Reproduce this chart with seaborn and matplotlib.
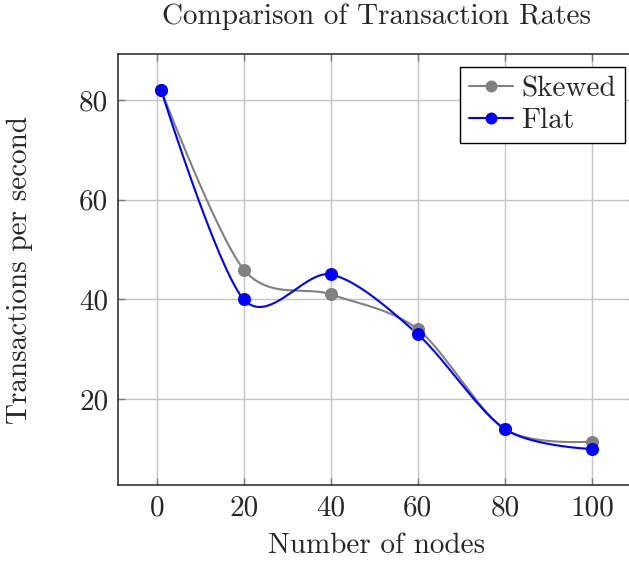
import numpy as np
import pandas as pd
import matplotlib
matplotlib.use("Agg")
import matplotlib.pyplot as plt
from matplotlib.lines import Line2D
import seaborn as sns

# Measured transaction rates
nodes = [1, 20, 40, 60, 80, 100]
skewed = [82, 46, 41, 34, 14, 11.5]
flat = [82, 40, 45, 33, 14, 10]

x_ticks = [0, 20, 40, 60, 80, 100]
y_ticks = [20, 40, 60, 80]

sns.set_theme(style="white")
plt.rcParams["font.family"] = ["cmr10", "DejaVu Serif"]
plt.rcParams["axes.formatter.use_mathtext"] = True
plt.rcParams["mathtext.fontset"] = "cm"

FS = 21


def smooth_path(xs, ys, tension=0.15, n=40):
    """Cubic Bezier path through the points, in the style of a TikZ 'smooth' plot."""
    p = np.column_stack([xs, ys]).astype(float)
    k = len(p)
    out = []
    for i in range(k - 1):
        a, b = p[i], p[i + 1]
        c1 = a if i == 0 else a + tension * (p[i + 1] - p[i - 1])
        c2 = b if i == k - 2 else b - tension * (p[i + 2] - p[i])
        t = np.linspace(0, 1, n, endpoint=(i == k - 2))[:, None]
        seg = ((1 - t) ** 3) * a + 3 * ((1 - t) ** 2) * t * c1 + 3 * (1 - t) * t ** 2 * c2 + t ** 3 * b
        out.append(seg)
    out = np.vstack(out)
    return out[:, 0], out[:, 1]


W, H = 629, 561
AX_L, AX_R, AX_T, AX_B = 118, 635, 54, 485
fig = plt.figure(figsize=(W / 100, H / 100), dpi=100)
ax = fig.add_axes([AX_L / W, (H - AX_B) / H, (AX_R - AX_L) / W, (AX_B - AX_T) / H])

series = [("Skewed", skewed, "#808080"), ("Flat", flat, "#0000ff")]
for name, vals, col in series:
    sx, sy = smooth_path(nodes, vals)
    curve = pd.DataFrame({"x": sx, "y": sy})
    sns.lineplot(data=curve, x="x", y="y", sort=False, color=col, linewidth=1.5,
                 ax=ax, zorder=3, legend=False)
    pts = pd.DataFrame({"x": nodes, "y": vals})
    sns.scatterplot(data=pts, x="x", y="y", color=col, s=88, edgecolor=col,
                    linewidth=0, ax=ax, zorder=4, legend=False)

ax.set_xlim(-8.9, 109.9)
ax.set_ylim(2.8, 89.2)
ax.set_xticks(x_ticks)
ax.set_yticks(y_ticks)
ax.set_xticklabels([str(v) for v in x_ticks])
ax.set_yticklabels([str(v) for v in y_ticks])
ax.grid(True, color="#c4c4c4", linewidth=1.0, zorder=0)
ax.set_axisbelow(True)
ax.tick_params(axis="both", which="both", direction="in", length=5, width=1.0,
               color="#7a7a7a", labelsize=FS, pad=7,
               top=True, right=True, bottom=True, left=True)
for s in ax.spines.values():
    s.set_color("#222222")
    s.set_linewidth(1.1)

aw, ah = AX_R - AX_L, AX_B - AX_T
ax.set_xlabel("Number of nodes", fontsize=FS)
ax.set_ylabel("Transactions per second", fontsize=FS)
ax.xaxis.set_label_coords(0.5, (AX_B - 533) / ah)
ax.yaxis.set_label_coords((33 - AX_L) / aw, 0.5)
ax.xaxis.label.set_va("top")
fig.text(((AX_L + AX_R) / 2) / W, 1 - 24 / H, "Comparison of Transaction Rates",
         ha="center", va="baseline", fontsize=FS)

handles = [Line2D([], [], color=c, linewidth=1.5, marker="o", markersize=8.6,
                  markeredgewidth=0) for _, _, c in series]
leg = ax.legend(handles, [n for n, _, _ in series], loc="upper left",
                bbox_to_anchor=((460 - AX_L) / aw, 1 - (67 - AX_T) / ah),
                fontsize=FS, frameon=True, fancybox=False, framealpha=1,
                edgecolor="black", borderpad=0.3, handlelength=1.5,
                handletextpad=0.3, labelspacing=0.2, borderaxespad=0)
leg.get_frame().set_linewidth(1.0)

fig.savefig("out.png", dpi=100)
